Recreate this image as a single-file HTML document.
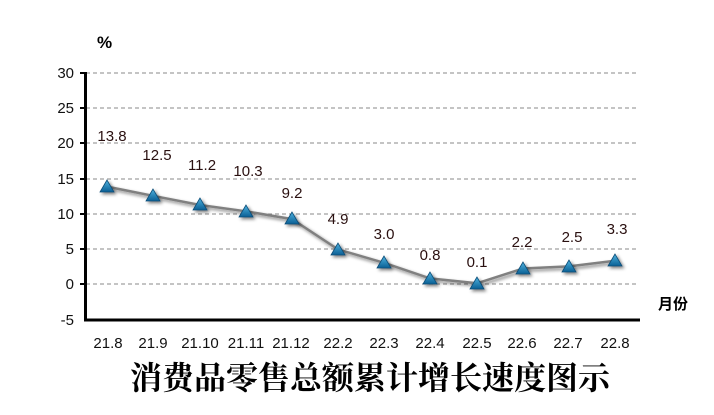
<!DOCTYPE html>
<html><head><meta charset="utf-8"><style>
body{margin:0;background:#fff;}
svg{display:block}
</style></head><body>
<svg width="714" height="415" xmlns="http://www.w3.org/2000/svg" font-family="'Liberation Sans','Noto Sans CJK SC',sans-serif">
<defs>
<linearGradient id="g" x1="0" y1="0" x2="0" y2="1"><stop offset="0" stop-color="#4fb3e0"/><stop offset="1" stop-color="#0a5f94"/></linearGradient>
<filter id="sh" x="-50%" y="-50%" width="200%" height="200%"><feGaussianBlur in="SourceAlpha" stdDeviation="1.5"/><feOffset dx="2" dy="2"/><feComponentTransfer><feFuncA type="linear" slope="0.5"/></feComponentTransfer><feMerge><feMergeNode/><feMergeNode in="SourceGraphic"/></feMerge></filter>
</defs>
<text x="97" y="48" font-size="17" font-weight="bold" fill="#000">%</text>
<g stroke="#888" stroke-dasharray="4,3" stroke-width="1">
<line x1="86" y1="73" x2="639" y2="73"/><line x1="86" y1="108" x2="639" y2="108"/><line x1="86" y1="143" x2="639" y2="143"/><line x1="86" y1="179" x2="639" y2="179"/><line x1="86" y1="214" x2="639" y2="214"/><line x1="86" y1="249" x2="639" y2="249"/><line x1="86" y1="284" x2="639" y2="284"/>
</g>
<g stroke="#000" stroke-width="3">
<line x1="85.5" y1="72" x2="85.5" y2="321"/><line x1="84" y1="320" x2="640" y2="320"/>
</g>
<g stroke="#000" stroke-width="2">
<line x1="80" y1="73" x2="85" y2="73"/><line x1="80" y1="108" x2="85" y2="108"/><line x1="80" y1="143" x2="85" y2="143"/><line x1="80" y1="179" x2="85" y2="179"/><line x1="80" y1="214" x2="85" y2="214"/><line x1="80" y1="249" x2="85" y2="249"/><line x1="80" y1="284" x2="85" y2="284"/>
</g>
<g font-size="15" fill="#111" text-anchor="end">
<text x="74" y="78">30</text><text x="74" y="113">25</text><text x="74" y="148">20</text><text x="74" y="184">15</text><text x="74" y="219">10</text><text x="74" y="254">5</text><text x="74" y="289">0</text><text x="74" y="325">-5</text>
</g>
<g font-size="15" fill="#111" text-anchor="middle">
<text x="108" y="348">21.8</text><text x="153" y="348">21.9</text><text x="200" y="348">21.10</text><text x="246" y="348">21.11</text><text x="291" y="348">21.12</text><text x="338" y="348">22.2</text><text x="384" y="348">22.3</text><text x="430" y="348">22.4</text><text x="477" y="348">22.5</text><text x="522" y="348">22.6</text><text x="568" y="348">22.7</text><text x="615" y="348">22.8</text>
</g>
<polyline fill="none" stroke="#808080" stroke-width="2.5" filter="url(#sh)" points="107,186.6 153,195.8 200,205 246,211.3 292,219.1 338,249.4 384,262.8 430,278.4 477,283.3 523,268.5 569,266.4 615,260.7"/>
<g fill="url(#g)" stroke="#0a4d78" stroke-width="0.8" filter="url(#sh)">
<path d="M107,180 l-7,12 h14z"/><path d="M153,189 l-7,12 h14z"/><path d="M200,198 l-7,12 h14z"/><path d="M246,205 l-7,12 h14z"/><path d="M292,212 l-7,12 h14z"/><path d="M338,243 l-7,12 h14z"/><path d="M384,256 l-7,12 h14z"/><path d="M430,272 l-7,12 h14z"/><path d="M477,277 l-7,12 h14z"/><path d="M523,262 l-7,12 h14z"/><path d="M569,260 l-7,12 h14z"/><path d="M615,254 l-7,12 h14z"/>
</g>
<g font-size="15" fill="#2a1010" text-anchor="middle">
<text x="112" y="141">13.8</text><text x="157" y="160">12.5</text><text x="202" y="170">11.2</text><text x="248" y="176">10.3</text><text x="292" y="198">9.2</text><text x="338" y="224">4.9</text><text x="384" y="239">3.0</text><text x="430" y="260">0.8</text><text x="477" y="267">0.1</text><text x="522" y="247">2.2</text><text x="572" y="242">2.5</text><text x="617" y="234">3.3</text>
</g>
<text x="658" y="309" font-size="15" font-weight="bold" fill="#000">月份</text>
<text x="370" y="389" font-size="32" font-weight="bold" text-anchor="middle" fill="#000" font-family="'Noto Serif CJK SC',serif">消费品零售总额累计增长速度图示</text>
</svg>
</body></html>
